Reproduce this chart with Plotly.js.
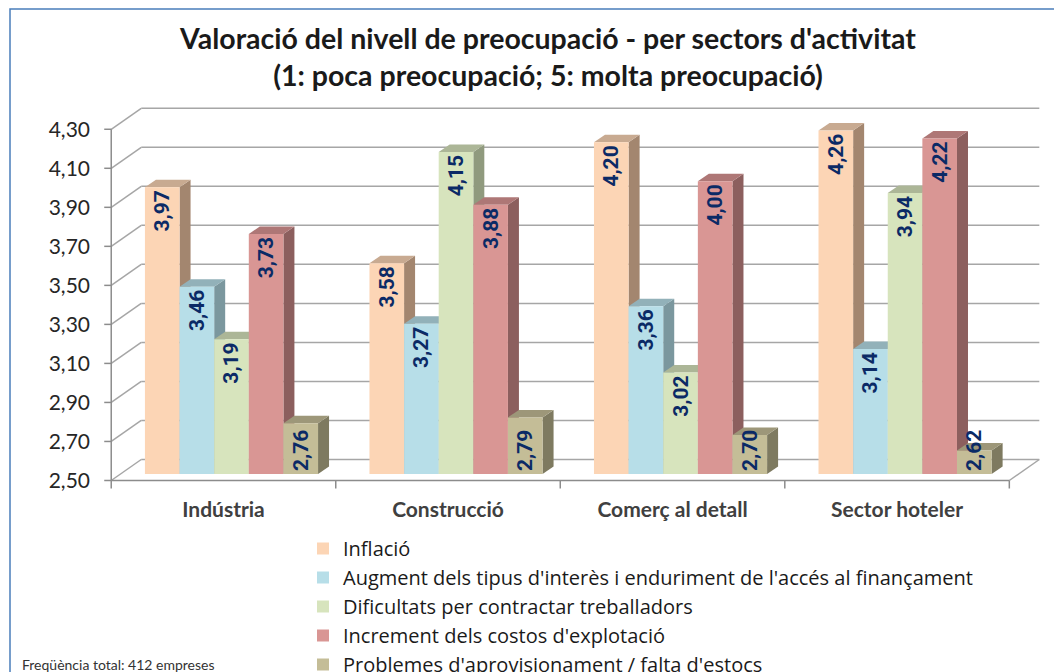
<!DOCTYPE html>
<html>
<head>
<meta charset="utf-8">
<script src="https://cdn.plot.ly/plotly-3.0.1.min.js"></script>
<style>
html,body{margin:0;padding:0;background:#fff;}
#chart{width:1054px;height:672px;}
</style>
</head>
<body>
<div id="chart"></div>
<script>
// ---- data ----
const categories = ['Indústria', 'Construcció', 'Comerç al detall', 'Sector hoteler'];
const seriesNames = [
  'Inflació',
  "Augment dels tipus d'interès i enduriment de l'accés al finançament",
  'Dificultats per contractar treballadors',
  "Increment dels costos d'explotació",
  "Problemes d'aprovisionament / falta d'estocs"
];
const inflacio     = [3.97, 3.58, 4.20, 4.26];
const interes      = [3.46, 3.27, 3.36, 3.14];
const treballadors = [3.19, 4.15, 3.02, 3.94];
const costos       = [3.73, 3.88, 4.00, 4.22];
const estocs       = [2.76, 2.79, 2.70, 2.62];
const yTickValues  = [2.5, 2.7, 2.9, 3.1, 3.3, 3.5, 3.7, 3.9, 4.1, 4.3];
const yTickLabels  = ['2,50','2,70','2,90','3,10','3,30','3,50','3,70','3,90','4,10','4,30'];
const footnote = 'Freqüència total: 412 empreses';
const titleText = "Valoració del nivell de preocupació - per sectors d'activitat<br>(1: poca preocupació; 5: molta preocupació)";

const series = [inflacio, interes, treballadors, costos, estocs];
const frontColors = ['#FCD5B5', '#B7DEE8', '#D7E4BD', '#D99694', '#C4BD97'];
const topColors   = ['#C8AA91', '#92B1B9', '#ACB697', '#AE7776', '#9D9779'];
const sideColors  = ['#A3866F', '#7B979E', '#909A7E', '#8C5F5E', '#7E7A60'];
const textAnchors = ['end', 'end', 'end', 'end', 'start'];

// ---- geometry (layout constants) ----
const M = {l: 100, r: 11, t: 100, b: 172, autoexpand: false};
const W = 1054, H = 672;
const pw = W - M.l - M.r, ph = H - M.t - M.b;
const xr = [-0.55, 3.65], yr = [2.40, 4.45];
const pxX = pw / (xr[1] - xr[0]), pxY = ph / (yr[1] - yr[0]);
const yBase = yTickValues[0], yTop = yTickValues[yTickValues.length - 1];
const wallDx = 30 / pxX, wallDy = 21 / pxY;     // back wall depth
const barSx = 8 / pxX, barSy = 6.5 / pxY;       // bar front plane offset
const barDx = 11 / pxX, barDy = 7.5 / pxY;      // bar depth
const bargap = 0.229;
const nS = series.length;
const bw = (1 - bargap) / nS;
const xFront0 = -0.5, xFront1 = categories.length - 0.5;

const gridColor = '#A6A6A6';
const axisColor = '#8C8C8C';

const shapes = [];
yTickValues.forEach(v => {
  shapes.push({type: 'line', xref: 'x', yref: 'y', layer: 'below',
    x0: xFront0 + wallDx, x1: xFront1 + wallDx, y0: v + wallDy, y1: v + wallDy,
    line: {color: gridColor, width: 1.5}});
  shapes.push({type: 'line', xref: 'x', yref: 'y', layer: 'below',
    x0: xFront0, x1: xFront0 + wallDx, y0: v, y1: v + wallDy,
    line: {color: gridColor, width: 1.5}});
  shapes.push({type: 'line', xref: 'x', yref: 'y', layer: 'above',
    x0: xFront0 - 7 / pxX, x1: xFront0, y0: v, y1: v,
    line: {color: axisColor, width: 1.5}});
});
shapes.push({type: 'line', xref: 'x', yref: 'y', layer: 'below',
  x0: xFront1, x1: xFront1 + wallDx, y0: yBase, y1: yBase + wallDy,
  line: {color: gridColor, width: 1.5}});
shapes.push({type: 'line', xref: 'x', yref: 'y', layer: 'above',
  x0: xFront0, x1: xFront0, y0: yBase, y1: yTop, line: {color: axisColor, width: 1.5}});
shapes.push({type: 'line', xref: 'x', yref: 'y', layer: 'above',
  x0: xFront0, x1: xFront1, y0: yBase, y1: yBase, line: {color: axisColor, width: 1.5}});
for (let k = 0; k <= categories.length; k++) {
  shapes.push({type: 'line', xref: 'x', yref: 'y', layer: 'above',
    x0: xFront0 + k, x1: xFront0 + k, y0: yBase, y1: yBase - 8 / pxY,
    line: {color: axisColor, width: 1.5}});
}
categories.forEach((c, ci) => {
  series.forEach((vals, si) => {
    const v = vals[ci];
    const xl = ci - (1 - bargap) / 2 + bw * si;
    const xrr = xl + bw;
    shapes.push({type: 'path', xref: 'x2', yref: 'y2', layer: 'below',
      path: `M${xrr},${yBase} L${xrr},${v} L${xrr + barDx},${v + barDy} L${xrr + barDx},${yBase + barDy} Z`,
      fillcolor: sideColors[si], line: {width: 0}});
    shapes.push({type: 'path', xref: 'x2', yref: 'y2', layer: 'below',
      path: `M${xl},${v} L${xrr},${v} L${xrr + barDx},${v + barDy} L${xl + barDx},${v + barDy} Z`,
      fillcolor: topColors[si], line: {width: 0}});
  });
});
const px2paperX = p => (p - M.l) / pw;
const px2paperY = p => 1 - (p - M.t) / ph;
shapes.push({type: 'rect', xref: 'paper', yref: 'paper', layer: 'above',
  x0: px2paperX(10), x1: px2paperX(1080), y0: px2paperY(9), y1: px2paperY(700),
  line: {color: '#4A7EBB', width: 1.5}, fillcolor: 'rgba(0,0,0,0)'});

const labelFont = {family: 'Roboto', size: 21, color: '#0B2A66', weight: 'bold'};
const idx = categories.map((_, i) => i);
const traces = series.map((vals, si) => ({
  type: 'bar',
  name: seriesNames[si],
  x: idx,
  y: vals.map(v => v - yBase),
  base: yBase,
  xaxis: 'x2', yaxis: 'y2',
  marker: {color: frontColors[si], line: {width: 0}},
  text: vals.map(v => '<b>' + v.toFixed(2).replace('.', ',') + '</b>'),
  textposition: 'inside',
  insidetextanchor: textAnchors[si],
  textangle: -90,
  constraintext: 'none',
  textfont: labelFont,
  insidetextfont: labelFont,
  hoverinfo: 'skip'
}));
traces.push({type: 'scatter', x: [xr[0]], y: [yr[0]], mode: 'markers',
  marker: {opacity: 0}, showlegend: false, hoverinfo: 'skip'});

const layout = {
  width: W, height: H,
  margin: M,
  paper_bgcolor: '#FFFFFF', plot_bgcolor: '#FFFFFF',
  separators: ',.',
  font: {family: 'Lato', color: '#262626'},
  title: {text: titleText, x: 548 / W, xanchor: 'center', xref: 'container',
    y: 1 - 49 / H, yanchor: 'middle', yref: 'container',
    font: {family: 'Lato', size: 28.5, weight: 700, color: '#1A1A1A'}},
  barmode: 'group', bargap: bargap, bargroupgap: 0,
  xaxis: {type: 'linear', range: xr, tickvals: idx, ticktext: categories,
    showgrid: false, zeroline: false, showline: false, ticks: '', ticklabelstandoff: -5,
    tickfont: {family: 'Lato', size: 21, weight: 700, color: '#404040'}, fixedrange: true},
  yaxis: {type: 'linear', range: yr, tickvals: yTickValues, ticktext: yTickLabels,
    showgrid: false, zeroline: false, showline: false, ticks: '', ticklabelstandoff: 9,
    tickfont: {family: 'Lato', size: 21, color: '#262626'}, fixedrange: true},
  xaxis2: {type: 'linear', overlaying: 'x', range: [xr[0] - barSx, xr[1] - barSx], visible: false},
  yaxis2: {type: 'linear', overlaying: 'y', range: [yr[0] - barSy, yr[1] - barSy], visible: false},
  showlegend: true,
  legend: {orientation: 'v', x: px2paperX(303), xanchor: 'left', y: px2paperY(529), yanchor: 'top',
    font: {family: 'Open Sans', size: 20, color: '#1A1A1A'}, bgcolor: 'rgba(0,0,0,0)'},
  shapes: shapes,
  annotations: [{text: footnote, xref: 'paper', yref: 'paper', x: px2paperX(20), xanchor: 'left',
    y: px2paperY(664), yanchor: 'middle', showarrow: false,
    font: {family: 'Lato', size: 14, color: '#333333'}}]
};

Plotly.newPlot('chart', traces, layout, {staticPlot: true, displayModeBar: false});
</script>
</body>
</html>
